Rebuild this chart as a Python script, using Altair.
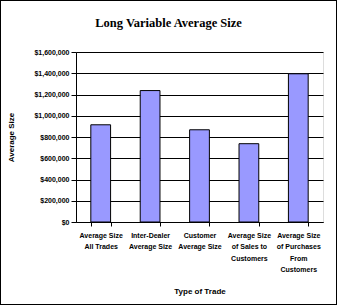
import altair as alt
import pandas as pd

categories = [
    "Average Size\nAll Trades",
    "Inter-Dealer\nAverage Size",
    "Customer\nAverage Size",
    "Average Size\nof Sales to\nCustomers",
    "Average Size\nof Purchases\nFrom\nCustomers",
]
values = [915000, 1237000, 868000, 737000, 1395000]
y_ticks = [0, 200000, 400000, 600000, 800000, 1000000, 1200000, 1400000, 1600000]

df = pd.DataFrame({"cat": categories, "val": values})

FONT = "Liberation Sans"

bars = alt.Chart(df).mark_bar(
    color="#9999FF", stroke="black", strokeWidth=1
).encode(
    x=alt.X(
        "cat:N", sort=categories,
        scale=alt.Scale(paddingInner=0.6, paddingOuter=0.3),
        axis=alt.Axis(
            title="Type of Trade", labelAngle=0,
            labelExpr="isValid(datum.value) ? split(datum.value, '\\n') : ''",
            labelFont=FONT, labelFontSize=7, labelFontWeight="bold",
            labelColor="black", labelLineHeight=11.5, labelPadding=5,
            tickBand="extent", tickSize=4, tickColor="black",
            domainColor="black", grid=False,
            titleFont=FONT, titleFontSize=8, titleFontWeight="bold",
            titleColor="black", titleY=65, titleBaseline="top",
        ),
    ),
    y=alt.Y(
        "val:Q",
        scale=alt.Scale(domain=[0, 1600000], nice=False),
        axis=alt.Axis(
            title="Average Size", values=y_ticks, format="$,.0f",
            labelFont=FONT, labelFontSize=7, labelFontWeight="bold",
            labelColor="black", labelPadding=2,
            tickSize=5, tickColor="black", domainColor="black",
            grid=True, gridColor="black", gridOpacity=1, gridWidth=1,
            titleFont=FONT, titleFontSize=8, titleFontWeight="bold",
            titleColor="black", titleX=-61, titleY=85,
        ),
    ),
)

frame = alt.Chart(df).mark_rect(
    fill=None, stroke="black", strokeWidth=1
).encode(
    x=alt.value(-75.5), x2=alt.value(260.5),
    y=alt.value(-51.5), y2=alt.value(252.5),
)

chart = alt.layer(bars, frame).properties(
    width=247, height=170,
    title=alt.TitleParams(
        "Long Variable Average Size",
        font="Liberation Serif", fontSize=12.5, fontWeight="bold",
        color="black", anchor="middle", dx=-31, offset=-42,
        baseline="bottom",
    ),
    autosize=alt.AutoSizeParams(type="none"),
    padding={"left": 76, "top": 52, "right": 16, "bottom": 84},
).configure_view(stroke=None).configure(background="white")

chart.save("out.html", embed_options={"renderer": "svg", "actions": False})
